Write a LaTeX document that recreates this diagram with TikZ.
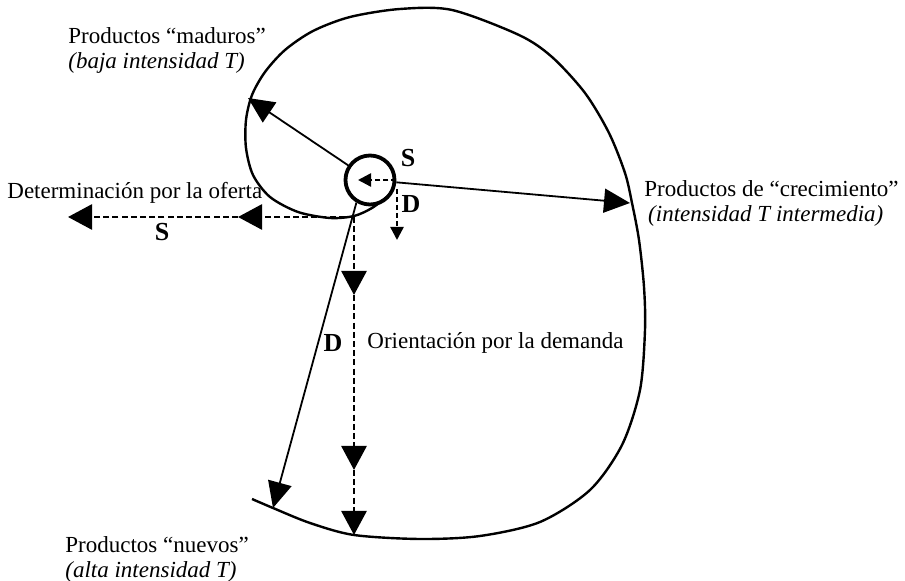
\documentclass[tikz,border=0pt]{standalone}
\usepackage{fontspec}
\setmainfont{Liberation Serif}
\usetikzlibrary{arrows.meta}

\begin{document}
\begin{tikzpicture}[x=0.5pt, y=-0.5pt,
  txt/.style={font=\fontsize{11.5}{12.5}\selectfont, inner sep=0pt,
              anchor=west, align=left},
  tag/.style={font=\fontsize{13}{14}\selectfont\bfseries, inner sep=0pt},
  arr/.style={-{Triangle[length=13pt,width=12pt]}, line width=0.9pt},
  dsh/.style={-{Triangle[length=12pt,width=12.5pt]}, line width=1.4pt,
              dash pattern=on 3pt off 1.6pt},
  dshsmall/.style={-{Triangle[length=6.5pt,width=6.5pt]}, line width=1.2pt,
              dash pattern=on 2.5pt off 1.5pt}
]
  \useasboundingbox (0,0) rectangle (905,581);

  % nucleo y puntos
  \node[draw, circle, line width=1.9pt, minimum size=24.5pt, inner sep=0pt] (hub) at (370,180) {};
  \coordinate (P)      at (354,217);
  \coordinate (madTip) at (248,98);
  \coordinate (creTip) at (630,203);
  \coordinate (nueTip) at (273,508);
  \coordinate (ofMid)  at (238,217);
  \coordinate (ofEnd)  at (68,217);
  \coordinate (deA)    at (354,295);
  \coordinate (deB)    at (354,470);
  \coordinate (deC)    at (354,535);
  \coordinate (inTip)  at (358,180);
  \coordinate (dTop)   at (397,189);
  \coordinate (dEnd)   at (397,240);

  % espiral
  \draw[line width=1.2pt] plot[smooth] coordinates {
    (388,196) (372,208) (354,216) (330,218) (298,212) (270,197) (253,175)
    (246,148) (246,120) (252,95) (265,72) (285,50) (313,31) (350,17)
    (400,9) (452,10) (519,35) (552,57) (585,93) (609,133) (625,173)
    (632,203) (639,240) (644,287) (645,330) (640,390) (622,445) (590,490)
    (540,522) (480,536) (420,539) (354,535) (310,523) (273,508) (252,499)};

  % flechas radiales
  \draw[arr] (hub) -- (madTip);
  \draw[arr] (hub) -- (creTip);
  \draw[arr] (hub.239) -- (nueTip);

  % oferta y demanda
  \draw[dshsmall] (hub.east) -- (inTip);
  \draw[dshsmall] (dTop) -- (dEnd);
  \draw[dsh] (P) -- (ofMid);
  \draw[dsh] (ofMid) -- (ofEnd);
  \draw[dsh] (P) -- (deA);
  \draw[dsh] (deA) -- (deB);
  \draw[dsh] (deB) -- (deC);

  % textos
  \node[txt] (maduros) at (68,50) {Productos ``maduros''\\\textit{(baja intensidad T)}};
  \node[txt] (crec) at (644,203) {Productos de ``crecimiento''\\\,\textit{(intensidad T intermedia)}};
  \node[txt] (nuevos) at (65,559) {Productos ``nuevos''\\\textit{(alta intensidad T)}};
  \node[txt] (oferta) at (7,193) {Determinación por la oferta};
  \node[txt] (demanda) at (367,343) {Orientación por la demanda};
  \node[tag] (sOf) at (162,232) {S};
  \node[tag] (dDe) at (333,343) {D};
  \node[tag] (sHub) at (408,158) {S};
  \node[tag] (dHub) at (411,204) {D};
\end{tikzpicture}
\end{document}
